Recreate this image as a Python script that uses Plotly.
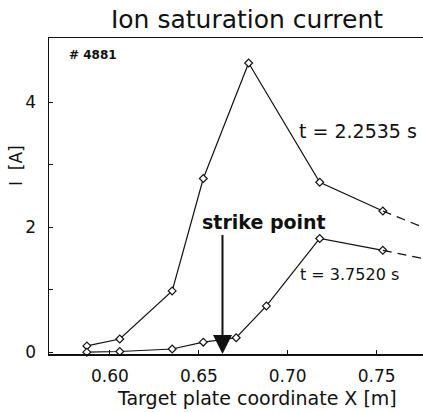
import plotly.graph_objects as go

# ---- data ----
x_early = [0.587, 0.6055, 0.635, 0.6525, 0.678, 0.718, 0.7535]
i_early = [0.10, 0.21, 0.98, 2.78, 4.63, 2.72, 2.26]
x_early_ext = [0.7535, 0.776]
i_early_ext = [2.26, 2.00]

x_late = [0.587, 0.6055, 0.635, 0.6525, 0.671, 0.688, 0.718, 0.7535]
i_late = [0.0, 0.01, 0.05, 0.16, 0.23, 0.74, 1.82, 1.63]
x_late_ext = [0.7535, 0.776]
i_late_ext = [1.63, 1.50]

strike_x = 0.6633

x_tickvals = [0.60, 0.65, 0.70, 0.75]
x_ticktext = ["0.60", "0.65", "0.70", "0.75"]
y_tickvals = [0, 1, 2, 3, 4]
y_ticktext = ["0", "", "2", "", "4"]

FONT = "DejaVu Sans"
BLACK = "#111111"

W, H = 423, 412
L, R, T, B = 49, 0, 38, 58
PW, PH = W - L - R, H - T - B


def px_x(p):
    return (p - L) / PW


def px_y(p):
    return (H - B - p) / PH


fig = go.Figure()

marker = dict(symbol="diamond", size=6, color="white", line=dict(color=BLACK, width=1.2))

for xs, ys in [(x_early, i_early), (x_late, i_late)]:
    fig.add_trace(go.Scatter(x=xs, y=ys, mode="lines+markers",
                             line=dict(color=BLACK, width=1.2), marker=marker,
                             showlegend=False, cliponaxis=False, hoverinfo="skip"))
for xs, ys in [(x_early_ext, i_early_ext), (x_late_ext, i_late_ext)]:
    fig.add_trace(go.Scatter(x=xs, y=ys, mode="lines",
                             line=dict(color=BLACK, width=1.2, dash="9px,6px"),
                             showlegend=False, hoverinfo="skip"))

# strike point arrow
fig.add_annotation(x=strike_x, y=-0.03, ax=strike_x, ay=1.9,
                   xref="x", yref="y", axref="x", ayref="y",
                   text="", showarrow=True, arrowhead=2, arrowsize=1.9,
                   arrowwidth=2, arrowcolor=BLACK)

fig.add_annotation(x=0.6864, y=2.083, xref="x", yref="y", text="<b>strike point</b>",
                   showarrow=False, font=dict(family=FONT, size=19, color=BLACK),
                   xanchor="center", yanchor="middle")
fig.add_annotation(x=0.7398, y=3.545, xref="x", yref="y", text="t = 2.2535 s",
                   showarrow=False, font=dict(family=FONT, size=19, color=BLACK),
                   xanchor="center", yanchor="middle")
fig.add_annotation(x=0.7348, y=1.25, xref="x", yref="y", text="t = 3.7520 s",
                   showarrow=False, font=dict(family=FONT, size=16, color=BLACK),
                   xanchor="center", yanchor="middle")
fig.add_annotation(x=0.5907, y=4.757, xref="x", yref="y", text="<b># 4881</b>",
                   showarrow=False, font=dict(family=FONT, size=12, color=BLACK),
                   xanchor="center", yanchor="middle")
# y-axis title
fig.add_annotation(x=px_x(16), y=px_y(166), xref="paper", yref="paper",
                   text="I  [A]", textangle=-90, showarrow=False,
                   font=dict(family=FONT, size=17, color=BLACK),
                   xanchor="center", yanchor="middle")
# x-axis title
fig.add_annotation(x=px_x(257), y=px_y(398), xref="paper", yref="paper",
                   text="Target plate coordinate X [m]", showarrow=False,
                   font=dict(family=FONT, size=19, color=BLACK),
                   xanchor="center", yanchor="middle")

fig.update_layout(
    width=W, height=H, autosize=False,
    margin=dict(l=L, r=R, t=T, b=B),
    paper_bgcolor="white", plot_bgcolor="white",
    font=dict(family=FONT, color=BLACK),
    hovermode=False,
    title=dict(text="Ion saturation current", x=247 / W, xanchor="center",
               xref="container", y=1 - 19 / H, yanchor="middle", yref="container",
               font=dict(family=FONT, size=25, color=BLACK)),
    xaxis=dict(range=[0.5657, 0.7761], tickvals=x_tickvals, ticktext=x_ticktext,
               ticks="inside", ticklen=4, tickcolor=BLACK, showline=True, linecolor=BLACK,
               linewidth=1.5, mirror=True, showgrid=False, zeroline=False,
               automargin=False, ticklabelstandoff=6,
               tickfont=dict(family=FONT, size=17, color=BLACK)),
    yaxis=dict(range=[-0.03, 5.03], tickvals=y_tickvals, ticktext=y_ticktext,
               ticks="inside", ticklen=4, tickcolor=BLACK, showline=True, linecolor=BLACK,
               linewidth=1.5, showgrid=False, zeroline=False, ticklabelstandoff=8,
               automargin=False,
               tickfont=dict(family=FONT, size=17, color=BLACK)),
)

post = ("document.body.style.margin='0';document.body.style.padding='0';"
        "document.body.style.overflow='hidden';"
        "var gd=document.getElementById('{plot_id}');"
        "Plotly.relayout(gd,{width:%d,height:%d});" % (W, H))

fig.write_html("out.html", post_script=post,
               config={"responsive": False, "displayModeBar": False, "staticPlot": True})
